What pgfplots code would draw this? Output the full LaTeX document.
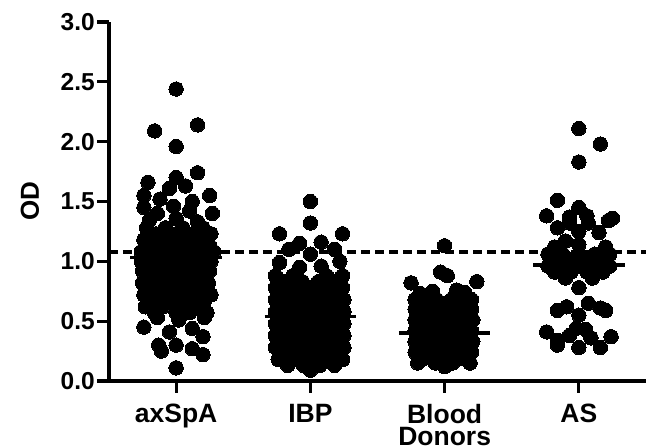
\documentclass[border=0pt]{standalone}
\usepackage{fontspec}
\setmainfont{Liberation Sans}
\usepackage{pgfplots}
\pgfplotsset{compat=1.18}

\begin{document}
\begin{tikzpicture}
\useasboundingbox (-109pt,-65pt) rectangle (537pt,381pt);
\begin{axis}[
  at={(0pt,0pt)},anchor=south west,
  scale only axis,width=537pt,height=359pt,
  xmin=-0.5,xmax=3.5,ymin=0,ymax=3,
  axis lines*=left,
  axis line style={line width=3.3pt,black},
  tick align=outside,
  major tick length=12pt,
  xtick={0,1,2,3},
  xticklabels={axSpA,IBP,Blood\\Donors,AS},
  ytick={0,0.5,1,1.5,2,2.5,3},
  minor tick num=0,
  /pgf/number format/fixed,/pgf/number format/fixed zerofill,
  /pgf/number format/precision=1,/pgf/number format/assume math mode=true,
  y tick label style={font=\fontsize{24.5}{27}\selectfont\bfseries,inner sep=3pt,xshift=1pt},
  x tick label style={font=\fontsize{26.5}{22.6}\selectfont\bfseries,align=center,inner sep=3pt,yshift=-8pt},
  ylabel={OD},
  ylabel style={font=\fontsize{26}{28}\selectfont\bfseries,at={(axis description cs:0,0.5)},anchor=center,yshift=79pt},
  clip=false
]
% swarm points, one series per group
\addplot[only marks,mark=*,mark size=7.2pt,mark options={fill=black,draw=black,line width=0pt}] coordinates {
(0,2.44) (-0.16,2.09) (0.16,2.14) (0,1.96) (0.16,1.74) (-0.21,1.66) (0,1.70)
(-0.24,1.55) (-0.05,1.61) (0.07,1.63) (0.25,1.55) (-0.12,1.52) (0.12,1.50)
(-0.24,1.45) (-0.02,1.46) (0.27,1.40) (-0.14,1.40) (0.10,1.42)
(-0.20,1.34) (0,1.36) (0.16,1.33)
(-0.22,1.28) (-0.08,1.28) (0.05,1.28) (0.20,1.28)
(-0.15,1.23) (0,1.23) (0.13,1.23) (0.26,1.23)
(-0.24,1.18) (-0.08,1.18) (0.06,1.18) (0.20,1.18)
(-0.17,1.13) (0,1.13) (0.12,1.13) (0.25,1.13)
(-0.26,1.08) (-0.10,1.08) (0.03,1.08) (0.16,1.08) (0.28,1.08)
(-0.20,1.04) (-0.05,1.04) (0.08,1.04) (0.22,1.04)
(-0.26,1.00) (-0.12,1.00) (0,1.00) (0.12,1.00) (0.26,1.00)
(-0.19,0.96) (-0.06,0.96) (0.06,0.96) (0.19,0.96)
(-0.25,0.92) (-0.12,0.92) (0,0.92) (0.13,0.92) (0.25,0.92)
(-0.19,0.87) (-0.06,0.87) (0.07,0.87) (0.20,0.87)
(-0.25,0.82) (-0.12,0.82) (0,0.82) (0.12,0.82) (0.24,0.82)
(-0.19,0.77) (-0.05,0.77) (0.07,0.77) (0.19,0.77)
(-0.24,0.72) (-0.11,0.72) (0.02,0.72) (0.14,0.72) (0.26,0.72)
(-0.17,0.67) (-0.04,0.67) (0.09,0.67) (0.21,0.67)
(-0.23,0.62) (-0.10,0.62) (0.03,0.62) (0.16,0.62)
(-0.16,0.57) (0,0.57) (0.10,0.57) (0.23,0.57)
(-0.14,0.53) (0.21,0.53) (0.02,0.51) (-0.24,0.45) (-0.05,0.41) (0.12,0.44)
(0.20,0.37) (-0.13,0.30) (-0.11,0.25) (0,0.30) (0.12,0.27) (0.20,0.22) (0,0.11)
};
\addplot[only marks,mark=*,mark size=7.2pt,mark options={fill=black,draw=black,line width=0pt}] coordinates {
(1,1.50) (1,1.32) (0.77,1.23) (1.24,1.23) (0.92,1.15) (1.08,1.16) (0.84,1.10) (1.18,1.10) (1,1.06)
(0.77,0.99) (0.92,0.95) (1.08,0.96) (1.22,1.00)
(0.74,0.88) (0.87,0.88) (1.12,0.88) (1.24,0.88)
(0.80,0.83) (0.94,0.83) (1.06,0.83) (1.18,0.83)
(0.74,0.78) (0.87,0.78) (1,0.78) (1.12,0.78) (1.24,0.78)
(0.80,0.73) (0.94,0.73) (1.06,0.73) (1.18,0.73)
(0.74,0.68) (0.87,0.68) (1,0.68) (1.13,0.68) (1.25,0.68)
(0.80,0.63) (0.94,0.63) (1.06,0.63) (1.19,0.63)
(0.74,0.58) (0.87,0.58) (1,0.58) (1.13,0.58) (1.25,0.58)
(0.80,0.53) (0.94,0.53) (1.07,0.53) (1.19,0.53)
(0.74,0.48) (0.87,0.48) (1,0.48) (1.13,0.48) (1.25,0.48)
(0.80,0.43) (0.94,0.43) (1.06,0.43) (1.19,0.43)
(0.74,0.38) (0.87,0.38) (1,0.38) (1.12,0.38) (1.25,0.38)
(0.80,0.33) (0.94,0.33) (1.06,0.33) (1.19,0.33)
(0.74,0.28) (0.87,0.28) (1,0.28) (1.13,0.28) (1.25,0.28)
(0.80,0.23) (0.94,0.23) (1.06,0.23) (1.19,0.23)
(0.76,0.18) (0.88,0.18) (1,0.18) (1.12,0.18) (1.24,0.18)
(0.83,0.13) (0.95,0.13) (1.07,0.13) (1.18,0.13)
(1,0.09)
};
\addplot[only marks,mark=*,mark size=7.2pt,mark options={fill=black,draw=black,line width=0pt}] coordinates {
(2,1.13) (1.97,0.91) (2.02,0.88) (1.75,0.82) (2.24,0.83)
(1.82,0.73) (1.91,0.75) (2.09,0.76) (2.15,0.74)
(1.78,0.68) (1.94,0.68) (2.05,0.68) (2.20,0.68)
(1.86,0.64) (2,0.64) (2.12,0.64)
(1.78,0.60) (1.92,0.60) (2.06,0.60) (2.20,0.60)
(1.85,0.55) (2,0.55) (2.13,0.55)
(1.78,0.51) (1.92,0.51) (2.06,0.51) (2.21,0.51)
(1.85,0.46) (2,0.46) (2.13,0.46)
(1.78,0.42) (1.92,0.42) (2.06,0.42) (2.20,0.42)
(1.85,0.37) (2,0.37) (2.13,0.37)
(1.78,0.33) (1.92,0.33) (2.06,0.33) (2.21,0.33)
(1.85,0.28) (2,0.28) (2.13,0.28)
(1.78,0.24) (1.92,0.24) (2.06,0.24) (2.20,0.24)
(1.85,0.19) (2,0.19) (2.13,0.19)
(1.80,0.15) (1.93,0.15) (2.06,0.15) (2.19,0.15)
(2,0.12)
};
\addplot[only marks,mark=*,mark size=7.2pt,mark options={fill=black,draw=black,line width=0pt}] coordinates {
(3,2.11) (3.16,1.98) (3,1.83) (2.84,1.51) (2.76,1.38) (3,1.45) (2.93,1.37) (3.06,1.38) (3.25,1.36)
(3.22,1.34) (2.84,1.28) (3,1.25) (3.15,1.24) (2.93,1.32) (3.07,1.32)
(2.82,1.12) (3,1.14) (3.20,1.12) (2.90,1.17)
(2.77,1.06) (2.88,1.06) (3,1.06) (3.12,1.06) (3.23,1.06)
(2.82,1.01) (2.94,1.01) (3.06,1.01) (3.18,1.01)
(2.77,0.96) (2.88,0.96) (3,0.96) (3.12,0.96) (3.23,0.96)
(2.82,0.91) (2.94,0.91) (3.06,0.91) (3.18,0.91)
(2.90,0.86) (3.10,0.86)
(3,0.78) (2.84,0.59) (2.91,0.62) (3,0.55) (3.07,0.65) (3.16,0.61) (3.20,0.59)
(2.76,0.41) (2.84,0.34) (2.93,0.38) (2.98,0.44) (3.05,0.43) (3.09,0.36)
(3,0.28) (3.16,0.28) (3.24,0.37) (2.84,0.30)
};
% medians
\addplot[black,line width=3.5pt] coordinates {(-0.34,1.03) (0.34,1.03)};
\addplot[black,line width=3.5pt] coordinates {(0.66,0.54) (1.34,0.54)};
\addplot[black,line width=3.5pt] coordinates {(1.66,0.40) (2.34,0.40)};
\addplot[black,line width=3.5pt] coordinates {(2.66,0.97) (3.34,0.97)};
% cut-off
\addplot[black,line width=4pt,dash pattern=on 9pt off 5pt] coordinates {(-0.5,1.08) (3.5,1.08)};
% thick outward ticks
\pgfplotsinvokeforeach{0,0.5,1,1.5,2,2.5,3}{
  \draw[line width=3.2pt] (axis cs:-0.5,#1) -- ++(-12pt,0pt);}
\pgfplotsinvokeforeach{0,1,2,3}{
  \draw[line width=3.2pt] (axis cs:#1,0) -- ++(0pt,-12pt);}
\end{axis}
\end{tikzpicture}
\end{document}
